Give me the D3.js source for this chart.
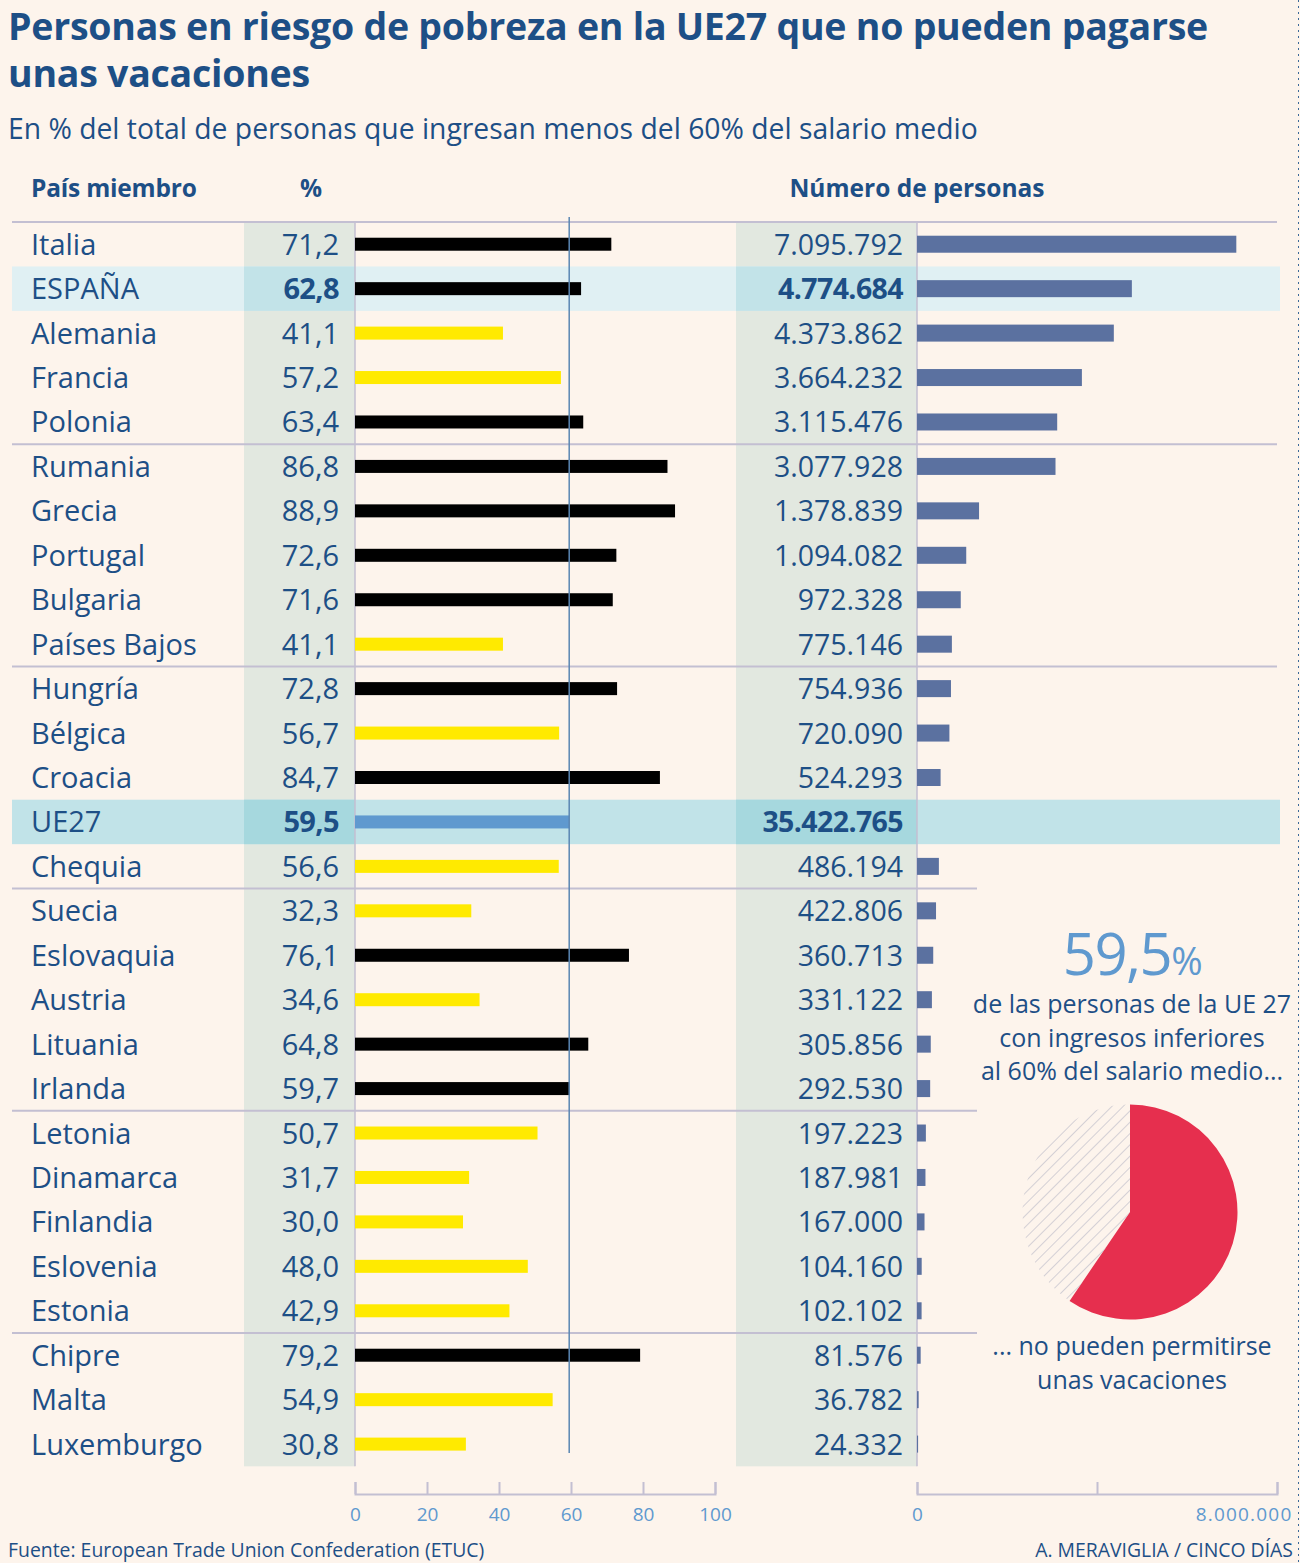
<!DOCTYPE html>
<html>
<head>
<meta charset="utf-8">
<script src="https://cdn.jsdelivr.net/npm/d3@7"></script>
<style>
  body { margin: 0; background: #fdf4ec; }
  svg text { font-family: "Open Sans", Lato, sans-serif; }
</style>
</head>
<body>
<svg id="chart" width="1300" height="1563"></svg>
<script>
// datos
const countries = ["Italia", "ESPAÑA", "Alemania", "Francia", "Polonia", "Rumania", "Grecia", "Portugal",
  "Bulgaria", "Países Bajos", "Hungría", "Bélgica", "Croacia", "UE27", "Chequia", "Suecia", "Eslovaquia",
  "Austria", "Lituania", "Irlanda", "Letonia", "Dinamarca", "Finlandia", "Eslovenia", "Estonia", "Chipre",
  "Malta", "Luxemburgo"]
const pct = [71.2, 62.8, 41.1, 57.2, 63.4, 86.8, 88.9, 72.6, 71.6, 41.1, 72.8, 56.7, 84.7, 59.5, 56.6, 32.3,
  76.1, 34.6, 64.8, 59.7, 50.7, 31.7, 30.0, 48.0, 42.9, 79.2, 54.9, 30.8]
const people = [7095792, 4774684, 4373862, 3664232, 3115476, 3077928, 1378839, 1094082, 972328, 775146,
  754936, 720090, 524293, 35422765, 486194, 422806, 360713, 331122, 305856, 292530, 197223, 187981,
  167000, 104160, 102102, 81576, 36782, 24332]
const pctTicks = [0, 20, 40, 60, 80, 100]
const peopleTicks = [0, 4000000, 8000000]
const peopleTickLabels = ["0", "", "8.000.000"]
const euAvg = 59.5

const blue = "#1d4f86", lightBlue = "#5f99cf", rule = "#c3bfd2"
const es = d3.formatLocale({ decimal: ",", thousands: ".", grouping: [3], currency: ["", "€"] })
const fPct = es.format(".1f"), fNum = es.format(",d")

const svg = d3.select("#chart")
svg.append("rect").attr("width", 1300).attr("height", 1563).attr("fill", "#fdf4ec")

// titulos
svg.append("text").attr("x", 8).attr("y", 40).attr("font-size", 37.5).attr("font-weight", 700)
  .attr("fill", blue).attr("letter-spacing", -0.25).text("Personas en riesgo de pobreza en la UE27 que no pueden pagarse")
svg.append("text").attr("x", 8).attr("y", 87).attr("font-size", 37.5).attr("font-weight", 700)
  .attr("fill", blue).attr("letter-spacing", -0.25).text("unas vacaciones")
svg.append("text").attr("x", 8).attr("y", 139).attr("font-size", 28.3)
  .attr("fill", blue).text("En % del total de personas que ingresan menos del 60% del salario medio")

svg.append("text").attr("x", 31).attr("y", 197).attr("font-size", 24.5).attr("font-weight", 700)
  .attr("fill", blue).attr("letter-spacing", -0.2).text("País miembro")
svg.append("text").attr("x", 311).attr("y", 197).attr("font-size", 24.5).attr("font-weight", 700)
  .attr("fill", blue).attr("text-anchor", "middle").text("%")
svg.append("text").attr("x", 917).attr("y", 197).attr("font-size", 24.5).attr("font-weight", 700)
  .attr("fill", blue).attr("text-anchor", "middle").text("Número de personas")

// escalas
const rowH = 44.44
const yTop = 222, yBottom = 222 + rowH * countries.length
const y = d3.scaleBand().domain(countries).range([yTop, yBottom])
const x = d3.scaleLinear().domain([0, 100]).range([355, 715])
const xn = d3.scaleLinear().domain([0, 8000000]).range([917, 1277])

// filas destacadas
const hl = { "ESPAÑA": ["#e0f0f3", "#c2e3e8"], "UE27": ["#c1e3e8", "#a6d8de"] }

// bandas grises
svg.append("rect").attr("x", 244).attr("y", yTop).attr("width", 111).attr("height", yBottom - yTop).attr("fill", "#e2e8e0")
svg.append("rect").attr("x", 736).attr("y", yTop).attr("width", 181).attr("height", yBottom - yTop).attr("fill", "#e2e8e0")

Object.keys(hl).forEach(function (c) {
  svg.append("rect").attr("x", 12).attr("y", y(c)).attr("width", 1268).attr("height", y.bandwidth()).attr("fill", hl[c][0])
  svg.append("rect").attr("x", 244).attr("y", y(c)).attr("width", 111).attr("height", y.bandwidth()).attr("fill", hl[c][1])
  svg.append("rect").attr("x", 736).attr("y", y(c)).attr("width", 181).attr("height", y.bandwidth()).attr("fill", hl[c][1])
})

// lineas separadoras
svg.append("line").attr("x1", 12).attr("x2", 1277).attr("y1", yTop).attr("y2", yTop)
  .attr("stroke", rule).attr("stroke-width", 2)
countries.forEach(function (c, i) {
  if (i % 5 == 4 && i < countries.length - 1) {
    svg.append("line").attr("x1", 12).attr("x2", i < 10 ? 1277 : 977)
      .attr("y1", y(c) + y.bandwidth()).attr("y2", y(c) + y.bandwidth())
      .attr("stroke", rule).attr("stroke-width", 2)
  }
})

// ejes verticales
svg.append("line").attr("x1", x(0)).attr("x2", x(0)).attr("y1", yTop).attr("y2", yBottom).attr("stroke", rule).attr("stroke-width", 1.5)
svg.append("line").attr("x1", xn(0)).attr("x2", xn(0)).attr("y1", yTop).attr("y2", yBottom).attr("stroke", rule).attr("stroke-width", 1.5)

const rows = svg.append("g").selectAll("g").data(countries).enter().append("g")
  .attr("transform", (d) => "translate(0," + (y(d) + y.bandwidth() / 2) + ")")

rows.append("text").attr("x", 31).attr("y", 10.5).attr("font-size", 29).attr("fill", blue).text((d) => d)
rows.append("text").attr("x", 339).attr("y", 10.5).attr("font-size", 29).attr("fill", blue)
  .attr("text-anchor", "end").attr("font-weight", (d) => hl[d] ? 700 : 400)
  .attr("letter-spacing", (d) => hl[d] ? -0.6 : 0)
  .text((d, i) => fPct(pct[i]))
rows.append("text").attr("x", 903).attr("y", 10.5).attr("font-size", 28.5).attr("fill", blue)
  .attr("text-anchor", "end").attr("font-weight", (d) => hl[d] ? 700 : 400)
  .attr("letter-spacing", (d) => hl[d] ? -0.6 : 0)
  .text((d, i) => fNum(people[i]))

rows.append("rect").attr("x", x(0)).attr("y", -6.5).attr("height", 13)
  .attr("width", (d, i) => x(pct[i]) - x(0))
  .attr("fill", (d, i) => d == "UE27" ? lightBlue : (pct[i] >= euAvg ? "#000" : "#ffea00"))

rows.filter((d) => d != "UE27").append("rect").attr("x", xn(0)).attr("y", -8.5).attr("height", 17)
  .attr("width", (d) => xn(people[countries.indexOf(d)]) - xn(0))
  .attr("fill", "#5b71a0")

// linea de la media
svg.append("line").attr("x1", x(euAvg)).attr("x2", x(euAvg)).attr("y1", 217).attr("y2", 1453)
  .attr("stroke", "#5a86b3").attr("stroke-width", 1.5)

// ejes inferiores
const axisY = 1494
const gA = svg.append("g").attr("transform", "translate(0," + axisY + ")")
gA.call(d3.axisTop(x).tickValues(pctTicks).tickSize(12).tickFormat(""))
gA.selectAll("line,path").attr("stroke", rule).attr("stroke-width", 2)
gA.selectAll(".tick").append("text").attr("y", 27).attr("fill", lightBlue).attr("font-size", 19)
  .attr("text-anchor", "middle").text((d) => d)

const gB = svg.append("g").attr("transform", "translate(0," + axisY + ")")
gB.call(d3.axisTop(xn).tickValues(peopleTicks).tickSize(12).tickFormat(""))
gB.selectAll("line,path").attr("stroke", rule).attr("stroke-width", 2)
gB.selectAll(".tick").append("text").attr("y", 27).attr("fill", lightBlue).attr("font-size", 19)
  .attr("letter-spacing", (d, i) => i == peopleTicks.length - 1 ? 1.2 : 0)
  .attr("text-anchor", (d, i) => i == peopleTicks.length - 1 ? "end" : "middle")
  .attr("x", (d, i) => i == peopleTicks.length - 1 ? 15 : 0)
  .text((d, i) => peopleTickLabels[i])

// tarta
const cx = 1130, cy = 1212, r = 107.5
const defs = svg.append("defs")
const pat = defs.append("pattern").attr("id", "hatch").attr("patternUnits", "userSpaceOnUse")
  .attr("width", 8).attr("height", 8).attr("patternTransform", "rotate(45)")
pat.append("line").attr("x1", 0).attr("x2", 0).attr("y1", 0).attr("y2", 8)
  .attr("stroke", "#c9c6cf").attr("stroke-width", 1.6)

const pieData = d3.pie().sort(null)([euAvg, 100 - euAvg])
const arc = d3.arc().innerRadius(0).outerRadius(r)
svg.append("g").attr("transform", "translate(" + cx + "," + cy + ")")
  .selectAll("path").data(pieData).enter().append("path")
  .attr("d", arc).attr("fill", (d, i) => i == 0 ? "#e62f4e" : "url(#hatch)")

const big = svg.append("text").attr("x", 1132).attr("y", 975).attr("text-anchor", "middle").attr("fill", lightBlue)
  .attr("letter-spacing", -1.5)
big.append("tspan").attr("font-size", 58).text(fPct(euAvg))
big.append("tspan").attr("font-size", 38).text("%")

const pieTxt = ["de las personas de la UE 27", "con ingresos inferiores", "al 60% del salario medio..."]
pieTxt.forEach(function (t, i) {
  svg.append("text").attr("x", 1132).attr("y", 1013 + i * 33.5).attr("text-anchor", "middle")
    .attr("font-size", 25).attr("fill", blue).text(t)
})
const pieTxt2 = ["... no pueden permitirse", "unas vacaciones"]
pieTxt2.forEach(function (t, i) {
  svg.append("text").attr("x", 1132).attr("y", 1355 + i * 33.5).attr("text-anchor", "middle")
    .attr("font-size", 25).attr("fill", blue).text(t)
})

// pie de pagina
svg.append("text").attr("x", 8).attr("y", 1557).attr("font-size", 19.4).attr("fill", blue)
  .text("Fuente: European Trade Union Confederation (ETUC)")
svg.append("text").attr("x", 1293).attr("y", 1557).attr("font-size", 19.4).attr("fill", blue)
  .attr("text-anchor", "end").text("A. MERAVIGLIA / CINCO DÍAS")

svg.append("line").attr("x1", 1298.5).attr("x2", 1298.5).attr("y1", 0).attr("y2", 1563)
  .attr("stroke", "#3d6a9a").attr("stroke-width", 1).attr("stroke-dasharray", "2,4")
</script>
</body>
</html>
